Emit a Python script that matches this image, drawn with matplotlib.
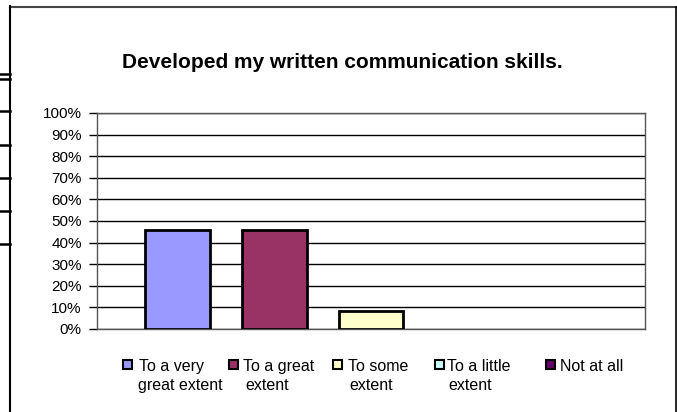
import matplotlib
matplotlib.use("Agg")
from matplotlib import pyplot as plt
from matplotlib.lines import Line2D
from matplotlib.patches import Rectangle
from matplotlib.ticker import PercentFormatter

plt.rcParams['font.family'] = ['Liberation Sans', 'DejaVu Sans']

title = "Developed my written communication skills."
labels = ["To a very\ngreat extent", "To a great\nextent", "To some\nextent",
          "To a little\nextent", "Not at all"]
values = [45.8, 45.8, 8.3, 0.0, 0.0]
colors = ["#9999FF", "#993366", "#FFFFCC", "#CCFFFF", "#660066"]

W, H = 677, 412
fig = plt.figure(figsize=(W / 100, H / 100), dpi=100)

# plot area in pixel coords
left, right, top, bottom = 97, 645, 113, 329
ax = fig.add_axes([left / W, 1 - bottom / H, (right - left) / W, (bottom - top) / H])

for i, (v, c) in enumerate(zip(values, colors)):
    if v > 0:
        ax.bar(i, v, width=0.67, color=c, edgecolor="black", linewidth=2,
               zorder=3)

ax.set_xlim(-0.835, 4.835)
ax.set_ylim(0, 100)
ax.set_yticks(range(0, 101, 10))
ax.yaxis.set_major_formatter(PercentFormatter(decimals=0))
ax.set_xticks([])
ax.tick_params(axis='y', length=6, width=1, labelsize=11, pad=5, color="black")
ax.grid(axis='y', color="black", linewidth=1, zorder=0)
for s in ax.spines.values():
    s.set_color("#555555")
    s.set_linewidth(1)

fig.text(342 / W, 1 - 68 / H, title, ha="center", va="baseline",
         fontsize=15, fontweight="bold")

# legend drawn by hand, Excel-style wrapped labels
box_x = [123, 229, 333, 435, 546]
text_x = [[139, 138], [243, 245], [348, 349], [447, 448], [560]]
for bx, txs, lab, c in zip(box_x, text_x, labels, colors):
    fig.add_artist(Rectangle((bx / W, 1 - 369 / H), 9 / W, 9 / H,
                             transform=fig.transFigure, facecolor=c,
                             edgecolor="black", linewidth=1.5))
    for k, (line, tx) in enumerate(zip(lab.split("\n"), txs)):
        fig.text(tx / W, 1 - (371 + 19 * k) / H, line, ha="left",
                 va="baseline", fontsize=11.5)

# surrounding frame of the embedded chart
def fline(xs, ys, lw=1.5, color="black"):
    fig.add_artist(Line2D([x / W for x in xs], [1 - y / H for y in ys],
                          color=color, linewidth=lw))

fline([10, 677], [7, 7], color="#444444")
fline([10, 10], [6, 412])
fline([676, 676], [7, 412], lw=1.2)
for y in [74, 79, 111, 145, 178, 211, 244]:
    fline([0, 10], [y, y], lw=1.8)

fig.savefig("out.png", dpi=100)
